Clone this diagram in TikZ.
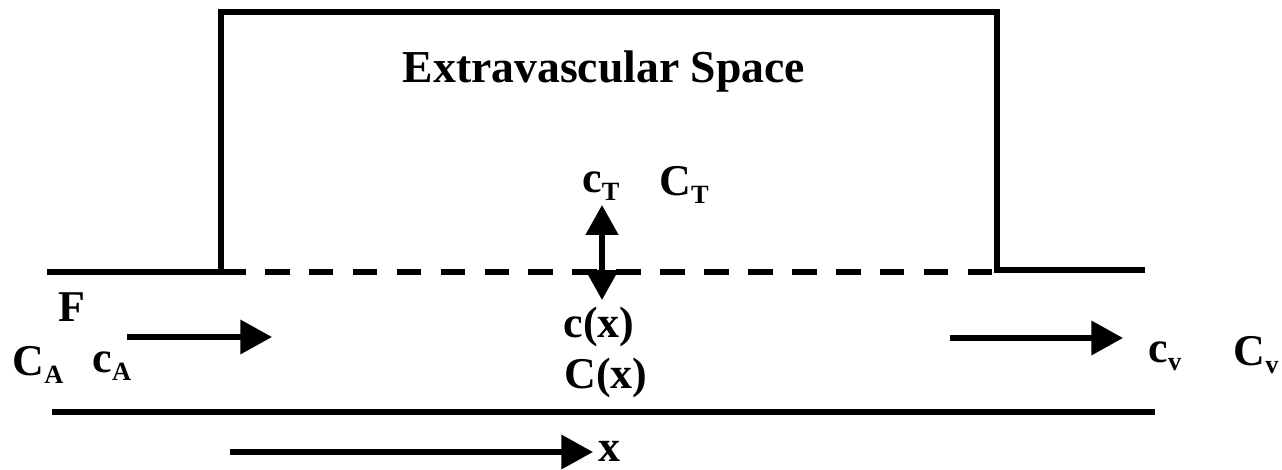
\documentclass[tikz,border=0pt]{standalone}
\usepackage{fontspec}
\setmainfont{Liberation Serif}
\usetikzlibrary{arrows.meta,positioning}
\tikzset{
  wallln/.style={line width=3.2pt},
  poreln/.style={line width=3.2pt, dash pattern=on 14pt off 11pt},
  flowln/.style={-{Triangle[length=18pt,width=19pt]}, line width=3.2pt},
  bothln/.style={{Triangle[length=17pt,width=18pt]}-{Triangle[length=17pt,width=18pt]}, line width=3.2pt},
  lbl/.style={font=\fontsize{25}{25}\selectfont\bfseries, inner sep=0pt},
}
\newcommand{\lowsub}[1]{\raisebox{-0.4ex}{\fontsize{15}{15}\selectfont #1}}

\begin{document}
\begin{tikzpicture}[x=0.02cm, y=-0.02cm]
    \useasboundingbox (0,0) rectangle (1282,470);
    % vessel walls and tissue box
    \draw[wallln] (47,272) -- (221,272) -- (221,12) -- (997,12) -- (997,270) -- (1145,270);
    \draw[poreln] (221,272) -- (997,272);
    \draw[wallln] (52,412) -- (1155,412);
    % labels
    \node[lbl, font=\fontsize{26}{26}\selectfont\bfseries] (title) at (604,72) {Extravascular Space};
    \node[lbl] (flow) at (72,307) {F};
    \node[lbl] (bigCA) at (38,365) {C\lowsub{A}};
    \node[lbl] (smallcA) at (112,366) {c\lowsub{A}};
    \node[lbl] (smallcT) at (601,186) {c\lowsub{T}};
    \node[lbl] (bigCT) at (684,185) {C\lowsub{T}};
    \node[lbl] (smallcx) at (599,327) {c(x)};
    \node[lbl] (bigCx) at (606,378) {C(x)};
    \node[lbl] (smallcv) at (1165,356) {c\lowsub{v}};
    \node[lbl] (bigCv) at (1256,355) {C\lowsub{v}};
    % arrows
    \coordinate (inA) at (127,337);
    \coordinate (inB) at (272,337);
    \coordinate (outA) at (950,338);
    \coordinate (outB) at (1123,338);
    \coordinate (exTop) at (602,205);
    \coordinate (exBot) at (602,300);
    \coordinate (axA) at (230,452);
    \coordinate (axB) at (593,452);
    \node[lbl, right=3pt of axB, yshift=0.5pt] (xlab) {x};
    \draw[flowln] (inA) -- (inB);
    \draw[flowln] (outA) -- (outB);
    \draw[bothln] (exTop) -- (exBot);
    \draw[flowln] (axA) -- (axB);
\end{tikzpicture}
\end{document}
